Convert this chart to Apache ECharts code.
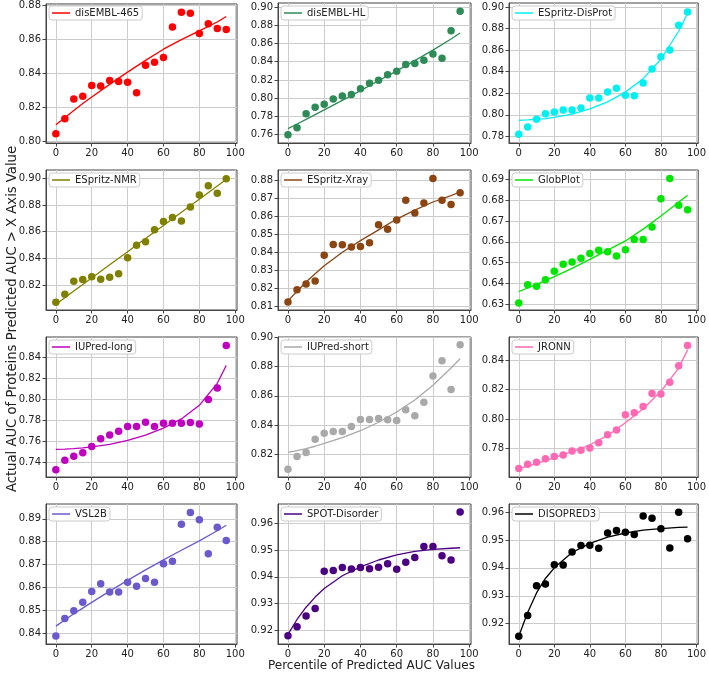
<!DOCTYPE html>
<html><head><meta charset="utf-8">
<script src="https://cdn.jsdelivr.net/npm/echarts@6/dist/echarts.min.js"></script>
<style>html,body{margin:0;padding:0;background:#fff}#c{width:709px;height:674px}</style>
</head><body><div id="c"></div>
<script>
// ---------- data ----------
const methodNames = ['disEMBL-465','disEMBL-HL','ESpritz-DisProt','ESpritz-NMR','ESpritz-Xray','GlobPlot','IUPred-long','IUPred-short','JRONN','VSL2B','SPOT-Disorder','DISOPRED3'];
const xPercentiles = [0,5,10,15,20,25,30,35,40,45,50,55,60,65,70,75,80,85,90,95];
const xTickLabels = [0,20,40,60,80,100];
const fitX = [0,5,10,15,20,30,40,50,60,70,80,90,95];

const pts_disEMBL465 = [0.8043,0.8130,0.8247,0.8263,0.8327,0.8323,0.8356,0.8350,0.8345,0.8284,0.8446,0.8463,0.8491,0.8670,0.8757,0.8752,0.8633,0.8689,0.8662,0.8656];
const fit_disEMBL465 = [0.8095,0.8137,0.8179,0.8220,0.8259,0.8333,0.8405,0.8474,0.8540,0.8596,0.8648,0.8700,0.8732];

const pts_disEMBLHL = [0.7600,0.7677,0.7830,0.7900,0.7933,0.7991,0.8024,0.8042,0.8105,0.8163,0.8196,0.8258,0.8295,0.8371,0.8382,0.8415,0.8485,0.8437,0.8741,0.8953];
const fit_disEMBLHL = [0.7666,0.7717,0.7768,0.7820,0.7872,0.7977,0.8083,0.8191,0.8300,0.8412,0.8527,0.8650,0.8715];

const pts_ESpritzDisProt = [0.7819,0.7887,0.7958,0.8010,0.8026,0.8044,0.8044,0.8063,0.8156,0.8156,0.8211,0.8245,0.8180,0.8177,0.8295,0.8425,0.8539,0.8601,0.8830,0.8954];
const fit_ESpritzDisProt = [0.7948,0.7952,0.7958,0.7965,0.7975,0.8005,0.8055,0.8120,0.8210,0.8335,0.8515,0.8775,0.8940];

const pts_ESpritzNMR = [0.8071,0.8132,0.8228,0.8241,0.8263,0.8243,0.8258,0.8284,0.8405,0.8499,0.8524,0.8615,0.8676,0.8706,0.8681,0.8785,0.8876,0.8944,0.8889,0.8997];
const fit_ESpritzNMR = [0.8056,0.8105,0.8155,0.8204,0.8253,0.8352,0.8450,0.8549,0.8647,0.8746,0.8844,0.8943,0.8992];

const pts_ESpritzXray = [0.8124,0.8191,0.8223,0.8240,0.8384,0.8443,0.8442,0.8429,0.8432,0.8453,0.8554,0.8529,0.8580,0.8690,0.8619,0.8675,0.8811,0.8690,0.8666,0.8731];
const fit_ESpritzXray = [0.8130,0.8183,0.8235,0.8281,0.8325,0.8400,0.8465,0.8525,0.8585,0.8635,0.8680,0.8715,0.8737];

const pts_GlobPlot = [0.6305,0.6393,0.6386,0.6417,0.6458,0.6492,0.6503,0.6520,0.6544,0.6559,0.6552,0.6531,0.6562,0.6611,0.6611,0.6671,0.6807,0.6905,0.6776,0.6754];
const fit_GlobPlot = [0.6360,0.6377,0.6395,0.6413,0.6432,0.6472,0.6515,0.6560,0.6604,0.6661,0.6724,0.6790,0.6824];

const pts_IUPredLong = [0.7326,0.7415,0.7455,0.7487,0.7547,0.7621,0.7656,0.7692,0.7737,0.7737,0.7778,0.7737,0.7769,0.7769,0.7769,0.7775,0.7762,0.7996,0.8105,0.8512];
const fit_IUPredLong = [0.7519,0.7522,0.7527,0.7534,0.7544,0.7568,0.7605,0.7655,0.7722,0.7810,0.7940,0.8150,0.8320];

const pts_IUPredShort = [0.8099,0.8186,0.8214,0.8303,0.8345,0.8356,0.8356,0.8391,0.8439,0.8439,0.8446,0.8437,0.8432,0.8506,0.8464,0.8556,0.8736,0.8839,0.8644,0.8949];
const fit_IUPredShort = [0.8214,0.8226,0.8240,0.8256,0.8275,0.8315,0.8362,0.8420,0.8490,0.8572,0.8672,0.8790,0.8853];

const pts_JRONN = [0.7666,0.7695,0.7709,0.7732,0.7748,0.7757,0.7784,0.7789,0.7805,0.7841,0.7895,0.7927,0.8030,0.8043,0.8086,0.8173,0.8170,0.8250,0.8361,0.8498];
const fit_JRONN = [0.7666,0.7683,0.7700,0.7719,0.7740,0.7780,0.7825,0.7890,0.7975,0.8070,0.8188,0.8345,0.8468];

const pts_VSL2B = [0.8388,0.8465,0.8498,0.8536,0.8583,0.8616,0.8580,0.8580,0.8623,0.8605,0.8639,0.8623,0.8704,0.8715,0.8877,0.8928,0.8896,0.8748,0.8863,0.8805];
const fit_VSL2B = [0.8431,0.8458,0.8485,0.8510,0.8535,0.8584,0.8631,0.8677,0.8721,0.8763,0.8804,0.8848,0.8872];

const pts_SPOTDisorder = [0.9179,0.9213,0.9253,0.9281,0.9421,0.9424,0.9435,0.9429,0.9435,0.9430,0.9436,0.9449,0.9428,0.9455,0.9472,0.9514,0.9514,0.9479,0.9463,0.9643];
const fit_SPOTDisorder = [0.9184,0.9240,0.9286,0.9324,0.9356,0.9404,0.9437,0.9463,0.9482,0.9495,0.9503,0.9507,0.9509];

const pts_DISOPRED3 = [0.9155,0.9229,0.9336,0.9342,0.9411,0.9410,0.9457,0.9480,0.9481,0.9470,0.9525,0.9534,0.9528,0.9520,0.9586,0.9578,0.9540,0.9471,0.9599,0.9504];
const fit_DISOPRED3 = [0.9155,0.9240,0.9310,0.9362,0.9400,0.9455,0.9488,0.9510,0.9525,0.9535,0.9541,0.9545,0.9546];

const yTicks1 = [0.80,0.82,0.84,0.86,0.88];
const yTicks2 = [0.76,0.78,0.80,0.82,0.84,0.86,0.88,0.90];
const yTicks3 = [0.78,0.80,0.82,0.84,0.86,0.88,0.90];
const yTicks4 = [0.82,0.84,0.86,0.88,0.90];
const yTicks5 = [0.81,0.82,0.83,0.84,0.85,0.86,0.87,0.88];
const yTicks6 = [0.63,0.64,0.65,0.66,0.67,0.68,0.69];
const yTicks7 = [0.74,0.76,0.78,0.80,0.82,0.84];
const yTicks8 = [0.82,0.84,0.86,0.88,0.90];
const yTicks9 = [0.78,0.80,0.82,0.84];
const yTicks10 = [0.84,0.85,0.86,0.87,0.88,0.89];
const yTicks11 = [0.92,0.93,0.94,0.95,0.96];
const yTicks12 = [0.92,0.93,0.94,0.95,0.96];

const allPts = [pts_disEMBL465,pts_disEMBLHL,pts_ESpritzDisProt,pts_ESpritzNMR,pts_ESpritzXray,pts_GlobPlot,pts_IUPredLong,pts_IUPredShort,pts_JRONN,pts_VSL2B,pts_SPOTDisorder,pts_DISOPRED3];
const allFits = [fit_disEMBL465,fit_disEMBLHL,fit_ESpritzDisProt,fit_ESpritzNMR,fit_ESpritzXray,fit_GlobPlot,fit_IUPredLong,fit_IUPredShort,fit_JRONN,fit_VSL2B,fit_SPOTDisorder,fit_DISOPRED3];
const allYTicks = [yTicks1,yTicks2,yTicks3,yTicks4,yTicks5,yTicks6,yTicks7,yTicks8,yTicks9,yTicks10,yTicks11,yTicks12];

// ---------- styling / layout ----------
const colors = ['#ff0000','#2e8b57','#00f0f0','#808000','#8b4513','#00e600','#bf00bf','#a9a9a9','#ff69b4','#6a5acd','#4b0082','#000000'];
const yRanges = [[0.7988,0.8806],[0.7509,0.9044],[0.7738,0.9037],[0.8013,0.9063],[0.8079,0.8858],[0.6271,0.6946],
                 [0.7256,0.8592],[0.8046,0.9002],[0.7609,0.8555],[0.8353,0.8965],[0.9148,0.9673],[0.9127,0.9629]];
const colLeft = [46,278,509], colWidth = [191,193,194];
const rowTop = [3,170,337,504], rowHeight = 140;
const xRange = [-5.5,101];
const FONT = 'DejaVu Sans';
const axisCol = '#444';

const grid=[], xAxis=[], yAxis=[], series=[], legend=[];
for (let i=0;i<12;i++){
  const r=Math.floor(i/3), c=i%3;
  grid.push({left:colLeft[c], top:rowTop[r], width:colWidth[c], height:rowHeight, show:true, borderColor:axisCol, borderWidth:1, backgroundColor:'#fff'});
  xAxis.push({type:'value', gridIndex:i, min:xRange[0], max:xRange[1],
    axisLine:{show:true,onZero:false,lineStyle:{color:axisCol}},
    axisTick:{show:true,length:3.5,lineStyle:{color:axisCol},customValues:xTickLabels},
    axisLabel:{customValues:xTickLabels,fontFamily:FONT,fontSize:10,color:'#222',margin:5,formatter:v=>String(Math.round(v))},
    splitLine:{show:true,lineStyle:{color:'#cccccc',width:1}}});
  yAxis.push({type:'value', gridIndex:i, min:yRanges[i][0], max:yRanges[i][1],
    axisLine:{show:true,onZero:false,lineStyle:{color:axisCol}},
    axisTick:{show:true,length:3.5,lineStyle:{color:axisCol},customValues:allYTicks[i]},
    axisLabel:{customValues:allYTicks[i],fontFamily:FONT,fontSize:10,color:'#222',margin:5,formatter:v=>v.toFixed(2)},
    splitLine:{show:true,lineStyle:{color:'#cccccc',width:1}}});
  series.push({type:'scatter', name:methodNames[i]+' points', xAxisIndex:i, yAxisIndex:i, symbolSize:7.5,
    itemStyle:{color:colors[i],opacity:1}, data:xPercentiles.map((x,j)=>[x,allPts[i][j]]), z:3});
  series.push({type:'line', name:methodNames[i], xAxisIndex:i, yAxisIndex:i, showSymbol:false, smooth:false,
    lineStyle:{color:colors[i],width:1.3}, itemStyle:{color:colors[i]}, data:fitX.map((x,j)=>[x,allFits[i][j]]), z:4});
  legend.push({left:colLeft[c]+3, top:rowTop[r]+3, data:[methodNames[i]], icon:'rect', itemWidth:18, itemHeight:1.5,
    backgroundColor:'#fff', borderColor:'#cccccc', borderWidth:1, borderRadius:3, padding:[2,3,2,3], selectedMode:false,
    textStyle:{fontFamily:FONT,fontSize:10,color:'#222'}});
}

const chart = echarts.init(document.getElementById('c'), null, {renderer:'canvas'});
chart.setOption({
  animation:false, backgroundColor:'#fff',
  grid, xAxis, yAxis, series, legend,
  graphic:[
    {type:'text', left:268, top:660, style:{text:'Percentile of Predicted AUC Values', fontFamily:FONT, fontSize:12, fill:'#222'}},
    {type:'text', rotation:Math.PI/2, x:13, y:319, style:{text:'Actual AUC of Proteins Predicted AUC > X Axis Value', fontFamily:FONT, fontSize:13.2, fill:'#222', align:'center', verticalAlign:'middle'}}
  ]
});
</script></body></html>
